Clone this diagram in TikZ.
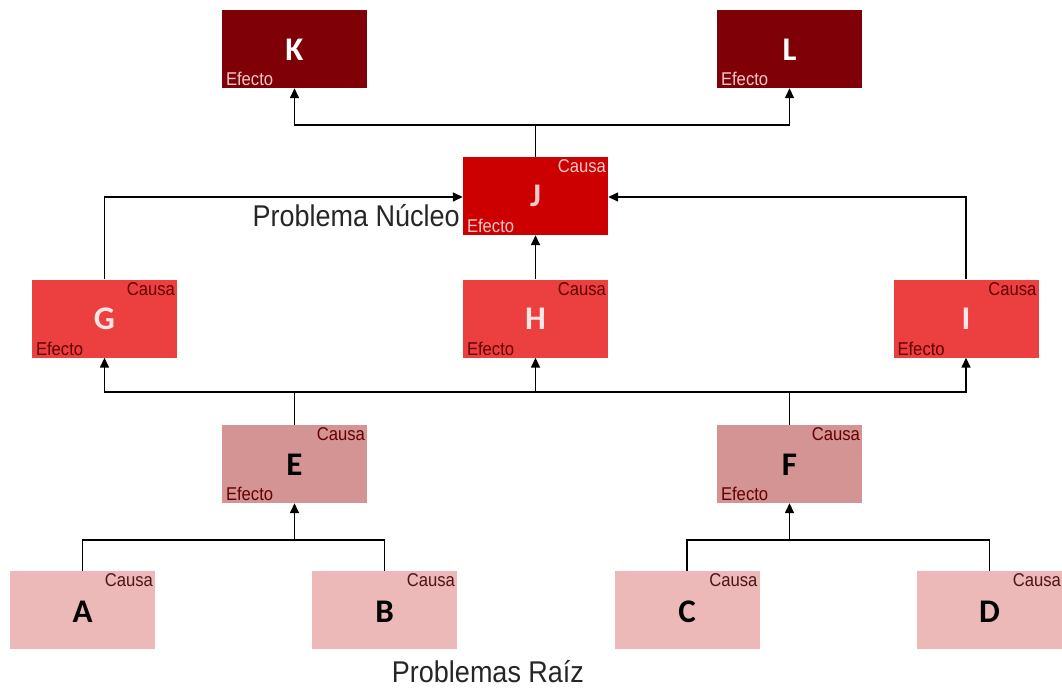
\documentclass[tikz,border=0pt]{standalone}
\usepackage{fontspec}
\setmainfont{Liberation Sans}
\newfontfamily\letterfont{Carlito}
\usetikzlibrary{arrows.meta}
\definecolor{lvA}{RGB}{128,0,8}
\definecolor{lvB}{RGB}{204,0,0}
\definecolor{lvC}{RGB}{236,64,64}
\definecolor{lvD}{RGB}{212,148,148}
\definecolor{lvE}{RGB}{236,184,184}
\definecolor{txLight}{RGB}{245,200,200}
\definecolor{txDark}{RGB}{100,0,0}
\definecolor{txBrown}{RGB}{80,20,20}
\tikzset{
  box/.style={minimum width=145pt, minimum height=78pt, inner sep=0pt, draw=none},
  letter/.style={font=\letterfont\bfseries\fontsize{33}{34}\selectfont, inner sep=0pt},
  tag/.style={font=\fontsize{18.5}{18.5}\selectfont, inner sep=1pt},
  conn/.style={line width=1.5pt, black},
  arr/.style={conn, -{Triangle[length=10pt,width=9pt]}},
  big/.style={font=\fontsize{30}{30}\selectfont, inner sep=0pt, text=black!85}
}
\newcommand{\nar}[1]{\scalebox{0.9}[1]{#1}}
\begin{document}
\begin{tikzpicture}[x=1pt,y=-1pt]
\useasboundingbox (0,0) rectangle (1062,690);
% boxes
\node[box, fill=lvA] (K) at (294.5,49) {};
\node[box, fill=lvA] (L) at (789.5,49) {};
\node[box, fill=lvB] (J) at (535.5,196) {};
\node[box, fill=lvC] (G) at (104.5,318.5) {};
\node[box, fill=lvC] (H) at (535.5,318.5) {};
\node[box, fill=lvC] (I) at (966,318.5) {};
\node[box, fill=lvD] (E) at (294.5,464) {};
\node[box, fill=lvD] (F) at (789.5,464) {};
\node[box, fill=lvE] (A) at (82.5,610) {};
\node[box, fill=lvE] (B) at (384.5,610) {};
\node[box, fill=lvE] (C) at (687,610) {};
\node[box, fill=lvE] (D) at (989.5,610) {};
% letters
\node[letter, text=white] (Kt) at (294.5,50) {K};
\node[letter, text=white] (Lt) at (789.5,50) {L};
\node[letter, text=txLight] (Jt) at (535.5,196) {J};
\node[letter, text=white!90!red] (Gt) at (104.5,319) {G};
\node[letter, text=white!90!red] (Ht) at (535.5,319) {H};
\node[letter, text=white!90!red] (It) at (966,319) {I};
\node[letter, text=black] (Et) at (294.5,465) {E};
\node[letter, text=black] (Ft) at (789.5,465) {F};
\node[letter, text=black] (At) at (82.5,612) {A};
\node[letter, text=black] (Bt) at (384.5,612) {B};
\node[letter, text=black] (Ct) at (687,612) {C};
\node[letter, text=black] (Dt) at (989.5,612) {D};
% Efecto labels
\node[tag, text=txLight, anchor=south west] (Ke) at ([xshift=3pt,yshift=1pt]K.south west) {\nar{Efecto}};
\node[tag, text=txLight, anchor=south west] (Le) at ([xshift=3pt,yshift=1pt]L.south west) {\nar{Efecto}};
\node[tag, text=txLight, anchor=south west] (Je) at ([xshift=3pt,yshift=1pt]J.south west) {\nar{Efecto}};
\node[tag, text=txDark, anchor=south west] (Ge) at ([xshift=3pt,yshift=1pt]G.south west) {\nar{Efecto}};
\node[tag, text=txDark, anchor=south west] (He) at ([xshift=3pt,yshift=1pt]H.south west) {\nar{Efecto}};
\node[tag, text=txDark, anchor=south west] (Ie) at ([xshift=3pt,yshift=1pt]I.south west) {\nar{Efecto}};
\node[tag, text=txDark, anchor=south west] (Ee) at ([xshift=3pt,yshift=1pt]E.south west) {\nar{Efecto}};
\node[tag, text=txDark, anchor=south west] (Fe) at ([xshift=3pt,yshift=1pt]F.south west) {\nar{Efecto}};
% Causa labels
\node[tag, text=txLight, anchor=north east] (Jc) at ([xshift=-1pt,yshift=-2pt]J.north east) {\nar{Causa}};
\node[tag, text=txDark, anchor=north east] (Gc) at ([xshift=-1pt,yshift=-2pt]G.north east) {\nar{Causa}};
\node[tag, text=txDark, anchor=north east] (Hc) at ([xshift=-1pt,yshift=-2pt]H.north east) {\nar{Causa}};
\node[tag, text=txDark, anchor=north east] (Ic) at ([xshift=-1pt,yshift=-2pt]I.north east) {\nar{Causa}};
\node[tag, text=txDark, anchor=north east] (Ec) at ([xshift=-1pt,yshift=-2pt]E.north east) {\nar{Causa}};
\node[tag, text=txDark, anchor=north east] (Fc) at ([xshift=-1pt,yshift=-2pt]F.north east) {\nar{Causa}};
\node[tag, text=txBrown, anchor=north east] (Ac) at ([xshift=-1pt,yshift=-2pt]A.north east) {\nar{Causa}};
\node[tag, text=txBrown, anchor=north east] (Bc) at ([xshift=-1pt,yshift=-2pt]B.north east) {\nar{Causa}};
\node[tag, text=txBrown, anchor=north east] (Cc) at ([xshift=-1pt,yshift=-2pt]C.north east) {\nar{Causa}};
\node[tag, text=txBrown, anchor=north east] (Dc) at ([xshift=0pt,yshift=-2pt]D.north east) {\nar{Causa}};
% big labels
\node[big, anchor=east] (nucleo) at (460,216) {\nar{Problema Núcleo}};
\node[big] (raiz) at (488,672) {\nar{Problemas Raíz}};
% coordinates for junctions
\coordinate (jt) at (535.5,125);
\coordinate (gl) at (104.5,197);
\coordinate (ir) at (966,197);
\coordinate (mid) at (535.5,392);
\coordinate (eab) at (294.5,540);
\coordinate (fcd) at (789.5,540);
% connectors top
\draw[conn] (J.north) -- (jt);
\draw[arr] (jt) -| (K.south);
\draw[arr] (jt) -| (L.south);
\draw[arr] (G.north) |- (J.west |- gl);
\draw[arr] (I.north) |- (J.east |- ir);
\draw[arr] (H.north) -- (J.south);
% middle
\draw[conn] (E.north) -- (E.north |- mid);
\draw[conn] (F.north) -- (F.north |- mid);
\draw[arr] (mid) -| (G.south);
\draw[arr] (mid) -| (I.south);
\draw[arr] (mid) -- (H.south);
% bottom
\draw[conn] (A.north) |- (eab) -| (B.north);
\draw[arr] (eab) -- (E.south);
\draw[conn] (C.north) |- (fcd) -| (D.north);
\draw[arr] (fcd) -- (F.south);
\end{tikzpicture}
\end{document}
